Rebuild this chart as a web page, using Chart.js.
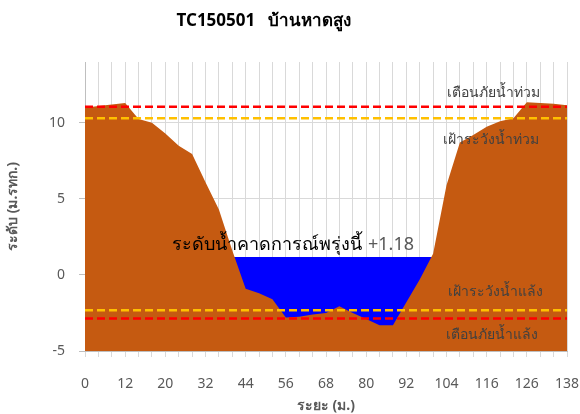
<!DOCTYPE html>
<html>
<head>
<meta charset="utf-8">
<script src="https://cdn.jsdelivr.net/npm/chart.js@4"></script>
<style>
  html, body { margin: 0; padding: 0; background: #fff; }
  #wrap { width: 580px; height: 414px; position: relative; }
</style>
</head>
<body>
<div id="wrap"><canvas id="chart" width="580" height="414"></canvas></div>
<script>
// distance along the section (m.), one per category
const distances = [0, 4, 8, 12, 15, 17, 20, 24, 28, 32, 36, 40, 44, 48, 52, 56, 60, 64, 68,
  72, 76, 80, 84, 88, 92, 96, 100, 104, 108, 112, 116, 119, 122, 126, 130, 134, 138];

// ground level (m. MSL)
const ground = [11.0, 11.1, 11.2, 11.3, 10.25, 10.0, 9.3, 8.5, 7.95, 6.1, 4.3, 1.6, -0.9,
  -1.2, -1.6, -2.8, -2.75, -2.6, -2.5, -2.05, -2.5, -2.9, -3.3, -3.3, -1.8, -0.3, 1.4,
  5.9, 8.7, 9.2, 9.75, 10.1, 10.3, 11.35, 11.3, 11.25, 11.15];

// forecast water level, only across the channel
const forecastLevel = 1.18;
const waterFrom = 10, waterTo = 27;
const water = distances.map((d, i) => (i >= waterFrom && i <= waterTo ? forecastLevel : null));

// threshold levels
const floodWarn   = 11.05;
const floodWatch  = 10.31;
const droughtWatch = -2.32;
const droughtWarn  = -2.87;

const yTicks = [-5, 0, 5, 10];

const flat = v => distances.map(() => v);

const textPlugin = {
  id: 'texts',
  afterDraw(chart) {
    const { ctx, scales: { y } } = chart;
    ctx.save();
    ctx.textBaseline = 'middle';
    ctx.textAlign = 'center';

    // chart title
    ctx.fillStyle = '#000';
    ctx.font = "bold 17px 'Noto Sans', sans-serif";
    ctx.fillText('TC150501   บ้านหาดสูง', 264, 21);

    // threshold labels
    ctx.fillStyle = '#404040';
    ctx.font = "14px 'Noto Sans', sans-serif";
    ctx.fillText('เตือนภัยน้ำท่วม', 493, 93);
    ctx.fillText('เฝ้าระวังน้ำท่วม', 491, 140);
    ctx.fillText('เฝ้าระวังน้ำแล้ง', 495, 292);
    ctx.fillText('เตือนภัยน้ำแล้ง', 492, 335);

    // forecast label
    ctx.textAlign = 'left';
    ctx.font = "18px 'Noto Sans', sans-serif";
    ctx.fillStyle = '#000';
    ctx.fillText('ระดับน้ำคาดการณ์พรุ่งนี้', 172, y.getPixelForValue(forecastLevel) - 12);
    ctx.fillStyle = '#595959';
    ctx.fillText('+' + forecastLevel.toFixed(2), 368, y.getPixelForValue(forecastLevel) - 12);
    ctx.restore();
  },
};

const dashLine = (data, color) => ({
  data,
  borderColor: color,
  borderWidth: 2.5,
  borderDash: [8, 4],
  pointRadius: 0,
  fill: false,
  order: 0,
});

new Chart(document.getElementById('chart'), {
  type: 'line',
  data: {
    labels: distances,
    datasets: [
      dashLine(flat(floodWarn), '#ff0000'),
      dashLine(flat(floodWatch), '#ffc000'),
      dashLine(flat(droughtWatch), '#ffc000'),
      dashLine(flat(droughtWarn), '#ff0000'),
      {
        data: ground,
        borderWidth: 0,
        borderColor: '#c55a11',
        backgroundColor: '#c55a11',
        pointRadius: 0,
        fill: 'start',
        order: 2,
      },
      {
        data: water,
        borderWidth: 0,
        borderColor: '#0000ff',
        backgroundColor: '#0000ff',
        pointRadius: 0,
        fill: 'start',
        order: 3,
      },
    ],
  },
  options: {
    responsive: false,
    animation: false,
    layout: { padding: { top: 62, right: 0, left: 0, bottom: 0 } },
    plugins: {
      legend: { display: false },
      tooltip: { enabled: false },
      title: { display: false },
    },
    scales: {
      x: {
        offset: false,
        afterFit: s => { s.height = 63; s.paddingRight = 13; },
        grid: { color: '#d9d9d9', tickColor: '#d9d9d9', tickLength: 6 },
        border: { color: '#bfbfbf' },
        ticks: {
          autoSkip: false,
          maxRotation: 0,
          padding: 19,
          color: '#595959',
          font: { family: "'Noto Sans', sans-serif", size: 14 },
          callback: (v, i) => (i % 3 === 0 ? distances[i] : ''),
        },
        title: {
          display: true,
          text: 'ระยะ (ม.)',
          color: '#595959',
          font: { family: "'Noto Sans', sans-serif", size: 14, weight: 'bold' },
          padding: { top: 0, bottom: 0 },
        },
      },
      y: {
        min: -5,
        max: 14,
        afterFit: s => { s.width = 85; },
        afterBuildTicks: s => { s.ticks = yTicks.map(v => ({ value: v })); },
        grid: { color: '#d9d9d9', tickColor: '#bfbfbf', tickLength: 6 },
        border: { color: '#bfbfbf' },
        ticks: {
          padding: 14,
          color: '#595959',
          font: { family: "'Noto Sans', sans-serif", size: 14 },
        },
        title: {
          display: true,
          text: 'ระดับ (ม.รทก.)',
          color: '#595959',
          font: { family: "'Noto Sans', sans-serif", size: 14, weight: 'bold' },
          padding: { top: 5, bottom: 0 },
        },
      },
    },
  },
  plugins: [textPlugin],
});
</script>
</body>
</html>
